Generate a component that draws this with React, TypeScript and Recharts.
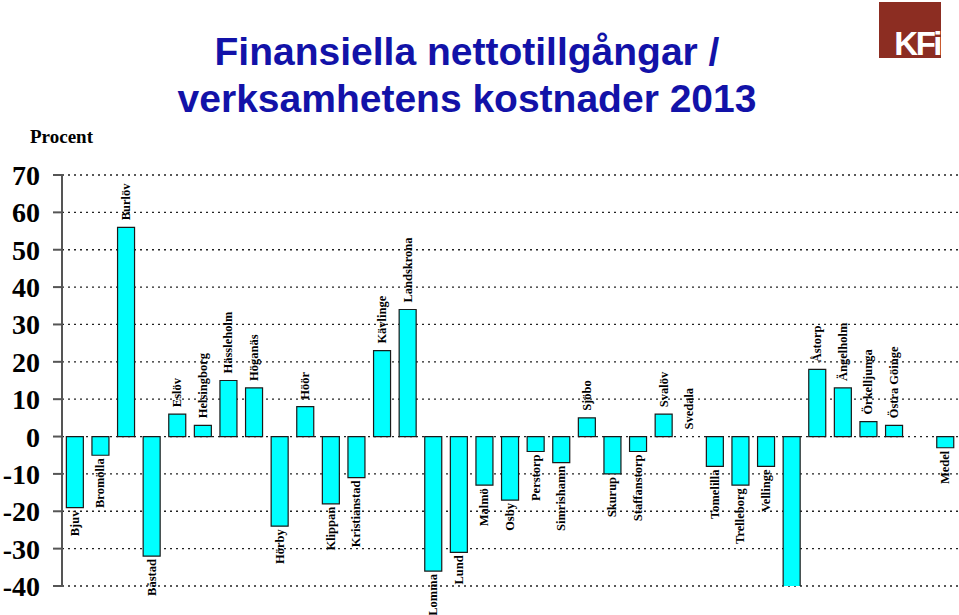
import { Bar, BarChart, CartesianGrid, ReferenceDot, XAxis, YAxis } from 'recharts'

// Kommuner i Skåne, i bokstavsordning, tomt fack före Medel
const categories = [
  'Bjuv', 'Bromölla', 'Burlöv', 'Båstad', 'Eslöv', 'Helsingborg', 'Hässleholm',
  'Höganäs', 'Hörby', 'Höör', 'Klippan', 'Kristianstad', 'Kävlinge', 'Landskrona',
  'Lomma', 'Lund', 'Malmö', 'Osby', 'Perstorp', 'Simrishamn', 'Sjöbo', 'Skurup',
  'Staffanstorp', 'Svalöv', 'Svedala', 'Tomelilla', 'Trelleborg', 'Vellinge',
  'Ystad', 'Åstorp', 'Ängelholm', 'Örkelljunga', 'Östra Göinge', '', 'Medel',
]

// procent
const values: (number | null)[] = [
  -19, -5, 56, -32, 6, 3, 15, 13, -24, 8, -18, -11, 23, 34, -36, -31, -13, -17,
  -4, -7, 5, -10, -4, 6, 0, -8, -13, -8, -50, 18, 13, 4, 3, null, -3,
]

const yTicks = [-40, -30, -20, -10, 0, 10, 20, 30, 40, 50, 60, 70]

const chartData = categories.map((name, i) => ({ name, value: values[i] }))

const SERIF = '"Liberation Serif", "DejaVu Serif", serif'
const SANS = '"Liberation Sans", Arial, sans-serif'

function YTick(props: any) {
  const { y, payload } = props
  return (
    <text
      x={40}
      y={y}
      dy={10}
      textAnchor="end"
      fontFamily={SERIF}
      fontWeight="bold"
      fontSize={28}
      fill="#000"
    >
      {payload.value}
    </text>
  )
}

// namn vid stapelns ände, roterat
function BarName(props: any) {
  const { viewBox, text, positive } = props
  if (!viewBox) return null
  const cx = viewBox.x + (viewBox.width || 0) / 2
  const cy = viewBox.y + (viewBox.height || 0) / 2
  const ay = positive ? cy - 7 : cy + 3
  return (
    <text
      x={cx}
      y={ay}
      transform={`rotate(-90 ${cx} ${ay})`}
      textAnchor={positive ? 'start' : 'end'}
      dominantBaseline="central"
      fontFamily={SERIF}
      fontWeight="bold"
      fontSize={12.5}
      fill="#000"
    >
      {text}
    </text>
  )
}

export default function App() {
  return (
    <div
      style={{
        position: 'absolute',
        left: 0,
        top: 0,
        width: 959,
        height: 615,
        background: '#fff',
        overflow: 'hidden',
      }}
    >
      <div
        style={{
          position: 'absolute',
          left: 0,
          top: 28,
          width: 934,
          textAlign: 'center',
          fontFamily: SANS,
          fontWeight: 'bold',
          fontSize: 39,
          lineHeight: '47px',
          color: '#1212a8',
        }}
      >
        Finansiella nettotillgångar /<br />
        verksamhetens kostnader 2013
      </div>
      <div
        style={{
          position: 'absolute',
          left: 30,
          top: 126,
          fontFamily: SERIF,
          fontWeight: 'bold',
          fontSize: 19,
          color: '#000',
        }}
      >
        Procent
      </div>
      <div
        style={{
          position: 'absolute',
          left: 879,
          top: 2,
          width: 62,
          height: 56,
          background: '#8c2d22',
        }}
      >
        <div
          style={{
            position: 'absolute',
            right: 1,
            bottom: -5,
            fontFamily: SANS,
            fontWeight: 'bold',
            fontSize: 33,
            letterSpacing: -2.5,
            color: '#fff',
          }}
        >
          KFi
        </div>
      </div>
      <div style={{ position: 'absolute', left: 0, top: 0 }}>
        <BarChart
          width={959}
          height={615}
          data={chartData}
          margin={{ top: 175, right: 1, bottom: 29, left: 0 }}
          barCategoryGap="17%"
        >
          <CartesianGrid
            vertical={false}
            stroke="#222"
            strokeDasharray="2 4"
            strokeWidth={1.3}
          />
          <XAxis dataKey="name" hide />
          <YAxis
            width={62}
            domain={[-40, 70]}
            ticks={yTicks}
            allowDataOverflow
            interval={0}
            tick={<YTick />}
            tickSize={9}
            axisLine={{ stroke: '#555', strokeWidth: 2 }}
            tickLine={{ stroke: '#555', strokeWidth: 2 }}
          />
          <Bar
            dataKey="value"
            fill="#00ffff"
            stroke="#1a1a1a"
            strokeWidth={1.2}
            isAnimationActive={false}
          />
          {categories.map((name, i) => {
            const v = values[i]
            if (v == null || !name) return null
            return (
              <ReferenceDot
                key={name}
                x={name}
                y={v}
                r={1}
                fill="none"
                stroke="none"
                label={<BarName text={name} positive={v >= 0} />}
              />
            )
          })}
        </BarChart>
      </div>
    </div>
  )
}
